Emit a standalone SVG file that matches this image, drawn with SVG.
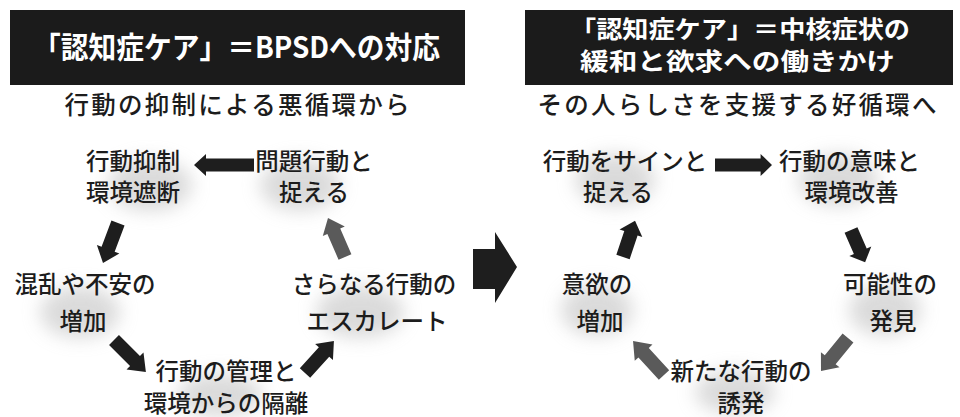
<svg xmlns="http://www.w3.org/2000/svg" xmlns:xlink="http://www.w3.org/1999/xlink" width="960" height="417" viewBox="0 0 960 417">
<style>
.title{font-family:"Noto Sans CJK JP","Noto Sans",sans-serif;font-weight:700;fill:#ffffff;}
.sub{font-family:"Noto Sans CJK JP","Noto Sans",sans-serif;font-weight:500;font-size:24.5px;fill:#1c1c1c;text-anchor:middle;}
.lbl{font-family:"Noto Sans CJK JP","Noto Sans",sans-serif;font-weight:500;font-size:23.5px;fill:#1c1c1c;text-anchor:middle;}
.box{fill:#1b1b1b;}
.halo{fill:#bdbdbd;opacity:0.55;filter:url(#blur);}
.blk{fill:#1e1e1e;}
.gry{fill:#5a5a5a;}
</style>
<defs>
<filter id="blur" x="-50%" y="-50%" width="200%" height="200%"><feGaussianBlur stdDeviation="9"/></filter>
<path id="ah" d="M0,-6.5 H48 V-11 L60,0 L48,11 V6.5 H0 Z"/>
<path id="ad" d="M0,-7 H27 V-12 L41,0 L27,12 V7 H0 Z"/>
</defs>
<rect width="960" height="417" fill="#ffffff"/>

<g id="title-left">
<rect class="box" x="10" y="10" width="455" height="75"/>
<text class="title" x="33" y="58" font-size="30" textLength="407" lengthAdjust="spacingAndGlyphs">「認知症ケア」＝BPSDへの対応</text>
</g>
<g id="subtitle-left">
<text class="sub" x="237" y="114" textLength="345">行動の抑制による悪循環から</text>
</g>

<g id="title-right">
<rect class="box" x="525" y="10" width="428" height="75"/>
<text class="title" x="570" y="37.5" font-size="24" textLength="340" lengthAdjust="spacingAndGlyphs">「認知症ケア」＝中核症状の</text>
<text class="title" x="580" y="70" font-size="24" textLength="315" lengthAdjust="spacingAndGlyphs">緩和と欲求への働きかけ</text>
</g>
<g id="subtitle-right">
<text class="sub" x="737" y="114" textLength="399">その人らしさを支援する好循環へ</text>
</g>

<g id="n-yokusei">
<ellipse class="halo" cx="150" cy="185" rx="42" ry="26"/>
<text class="lbl" x="133" y="169.5">行動抑制</text>
<text class="lbl" x="133" y="200.5">環境遮断</text>
</g>
<g id="n-mondai">
<ellipse class="halo" cx="300" cy="185" rx="40" ry="26"/>
<text class="lbl" x="314" y="169.5">問題行動と</text>
<text class="lbl" x="314" y="200.5">捉える</text>
</g>
<g id="n-konran">
<ellipse class="halo" cx="80" cy="312" rx="40" ry="26"/>
<text class="lbl" x="85" y="292.5">混乱や不安の</text>
<text class="lbl" x="83" y="329.5">増加</text>
</g>
<g id="n-escalate">
<ellipse class="halo" cx="360" cy="312" rx="44" ry="26"/>
<text class="lbl" x="374" y="292.5">さらなる行動の</text>
<text class="lbl" x="377" y="329.5">エスカレート</text>
</g>
<g id="n-kanri">
<ellipse class="halo" cx="220" cy="395" rx="42" ry="22"/>
<text class="lbl" x="226" y="379.5">行動の管理と</text>
<text class="lbl" x="226" y="411.5">環境からの隔離</text>
</g>

<g id="n-sign">
<ellipse class="halo" cx="615" cy="180" rx="40" ry="26"/>
<text class="lbl" x="625" y="169.5">行動をサインと</text>
<text class="lbl" x="618" y="200.5">捉える</text>
</g>
<g id="n-imi">
<ellipse class="halo" cx="838" cy="180" rx="40" ry="26"/>
<text class="lbl" x="849.5" y="169.5">行動の意味と</text>
<text class="lbl" x="851.5" y="200.5">環境改善</text>
</g>
<g id="n-iyoku">
<ellipse class="halo" cx="597" cy="310" rx="36" ry="26"/>
<text class="lbl" x="597" y="292.5">意欲の</text>
<text class="lbl" x="600" y="329.5">増加</text>
</g>
<g id="n-kanousei">
<ellipse class="halo" cx="885" cy="310" rx="36" ry="26"/>
<text class="lbl" x="890" y="292.5">可能性の</text>
<text class="lbl" x="893" y="329.5">発見</text>
</g>
<g id="n-yuhatsu">
<ellipse class="halo" cx="735" cy="392" rx="40" ry="22"/>
<text class="lbl" x="741" y="379.5">新たな行動の</text>
<text class="lbl" x="741" y="411.5">誘発</text>
</g>

<g id="connectors">
<use xlink:href="#ah" class="blk" transform="translate(254,165) rotate(180)"/>
<use xlink:href="#ad" class="blk" transform="translate(118,223) rotate(110.6) scale(1.04,1)"/>
<use xlink:href="#ad" class="blk" transform="translate(114,340) rotate(45) scale(1.1,1)"/>
<use xlink:href="#ad" class="blk" transform="translate(305,373) rotate(-47.8) scale(1.05,1)"/>
<use xlink:href="#ad" class="gry" transform="translate(345,257) rotate(-113.5) scale(1.04,1)"/>
<path class="blk" d="M473,249 H495 V232 L517,267 L495,303 V289 H473 Z"/>
<use xlink:href="#ah" class="blk" transform="translate(715,165) scale(0.95,1)"/>
<use xlink:href="#ad" class="blk" transform="translate(851,230) rotate(66.4) scale(0.86,1)"/>
<use xlink:href="#ad" class="gry" transform="translate(848,338) rotate(129.3) scale(1.04,1)"/>
<use xlink:href="#ad" class="gry" transform="translate(664,375) rotate(-132.4) scale(1.12,1)"/>
<use xlink:href="#ad" class="blk" transform="translate(623,257) rotate(-71.6) scale(0.93,1)"/>
</g>
</svg>
